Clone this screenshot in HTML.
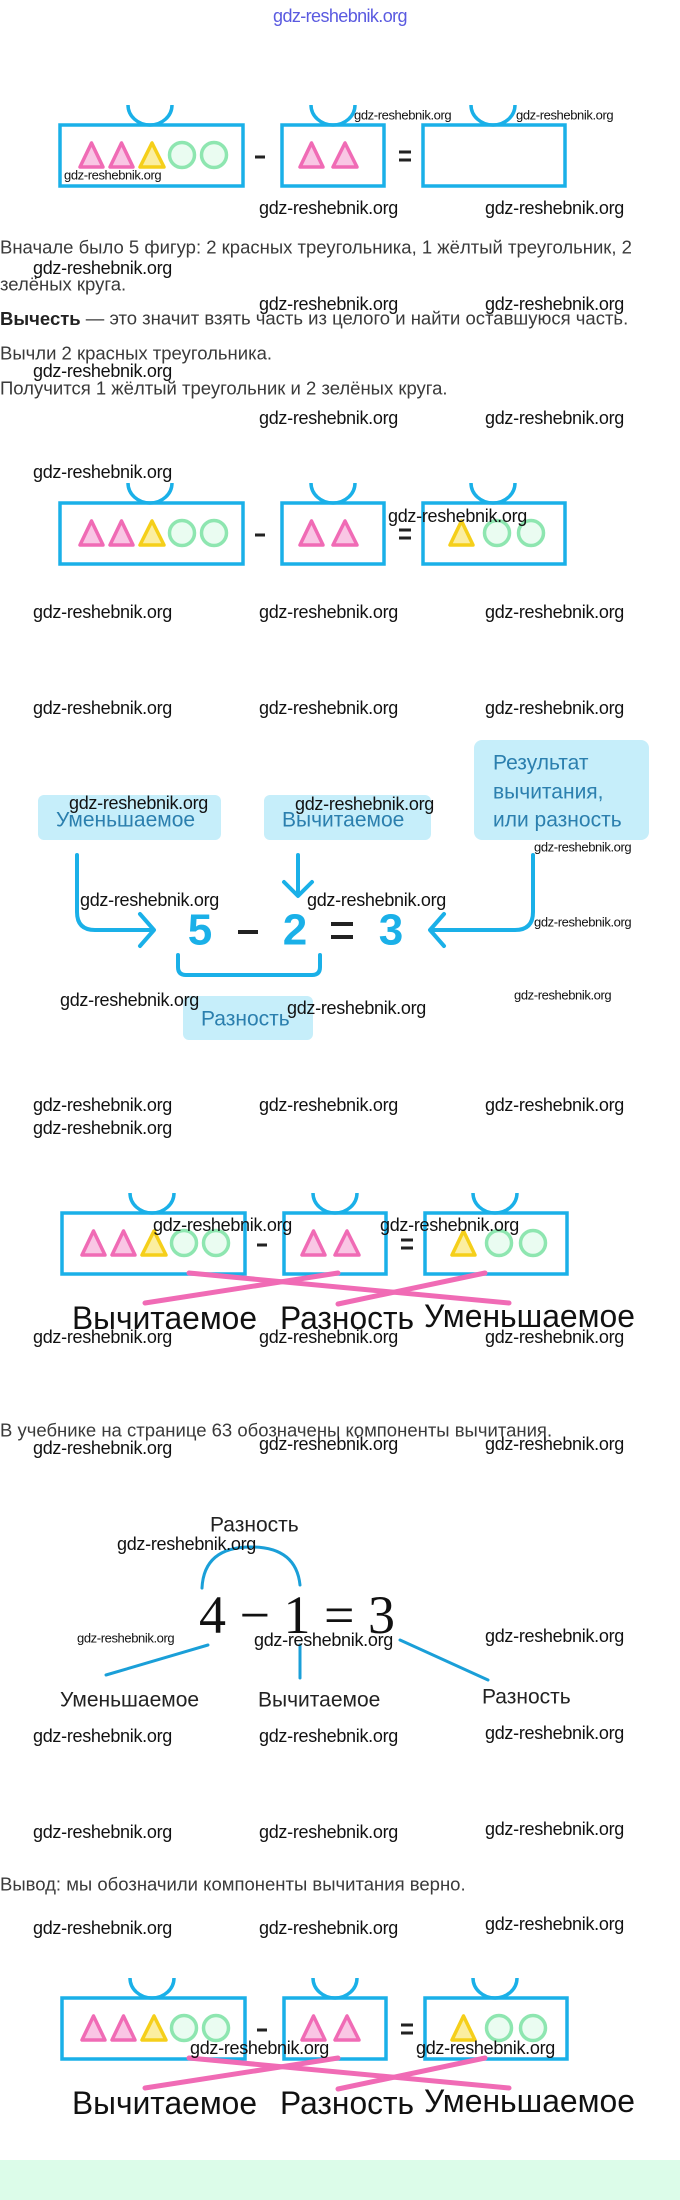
<!DOCTYPE html>
<html><head><meta charset="utf-8"><style>
html,body{margin:0;padding:0;background:#fff;}
svg{display:block;}
.w{font-family:"Liberation Sans",sans-serif;font-size:18px;fill:#111;letter-spacing:-0.3px;}
.ws{font-family:"Liberation Sans",sans-serif;font-size:13px;fill:#111;letter-spacing:-0.4px;}
.t{font-family:"Liberation Sans",sans-serif;font-size:18.5px;fill:#3a3a3a;}
.lb{font-family:"Liberation Sans",sans-serif;font-size:21px;fill:#2b7fae;}
.big{font-family:"Liberation Sans",sans-serif;font-size:32px;fill:#111;}
.mid{font-family:"Liberation Sans",sans-serif;font-size:21px;fill:#222;}
</style></head><body>
<svg width="680" height="2200" viewBox="0 0 680 2200" xmlns="http://www.w3.org/2000/svg">
<defs>
<g id="base" fill="none" stroke="#1ab0e8" stroke-width="3.5">
 <rect x="60" y="20" width="183" height="61"/>
 <rect x="282" y="20" width="102" height="61"/>
 <rect x="423" y="20" width="142" height="61"/>
 <path d="M128,0 A22,20 0 0 0 172,0"/>
 <path d="M311,0 A22,20 0 0 0 355,0"/>
 <path d="M471,0 A22,20 0 0 0 515,0"/>
 <g stroke="#222" stroke-width="3"><line x1="255" y1="52" x2="265" y2="52"/><line x1="399" y1="47" x2="411" y2="47"/><line x1="399" y1="55" x2="411" y2="55"/></g>
 <g stroke="#f06bb5" fill="#f9c6e4" stroke-linejoin="round"><polygon points="91.5,38 80,62 103,62"/><polygon points="121.5,38 110,62 133,62"/><polygon points="311.5,38 300,62 323,62"/><polygon points="345,38 333,62 357,62"/></g>
 <polygon points="152,38 140,62 164,62" stroke="#f5cf1a" fill="#fbeea0" stroke-linejoin="round"/>
 <g stroke="#8ee6b0" fill="#eafcf1"><circle cx="182" cy="50" r="12.5"/><circle cx="214" cy="50" r="12.5"/></g>
</g>
<g id="res" fill="none" stroke-width="3.5">
 <polygon points="461.5,38 450,62 473,62" stroke="#f5cf1a" fill="#fbeea0" stroke-linejoin="round"/>
 <g stroke="#8ee6b0" fill="#eafcf1"><circle cx="497" cy="50" r="12.5"/><circle cx="531" cy="50" r="12.5"/></g>
</g>
<g id="cross" stroke="#f06bb5" stroke-width="5" stroke-linecap="round">
 <line x1="189" y1="80" x2="509" y2="110"/><line x1="338" y1="80" x2="145" y2="110"/><line x1="485" y1="80" x2="338" y2="111"/>
</g>
</defs>

<text x="340" y="16" text-anchor="middle" dominant-baseline="central" style="font-family:'Liberation Sans',sans-serif;font-size:18px;fill:#5a5ae0;letter-spacing:-0.6px">gdz-reshebnik.org</text>

<!-- section 1 -->
<use href="#base" transform="translate(0,105)"/>
<text class="ws" x="354" y="115" dominant-baseline="central">gdz-reshebnik.org</text>
<text class="ws" x="516" y="115" dominant-baseline="central">gdz-reshebnik.org</text>
<text class="ws" x="64" y="175" dominant-baseline="central">gdz-reshebnik.org</text>
<text class="w" x="259" y="208" dominant-baseline="central">gdz-reshebnik.org</text>
<text class="w" x="485" y="208" dominant-baseline="central">gdz-reshebnik.org</text>
<text class="t" x="0" y="247" dominant-baseline="central">Вначале было 5 фигур: 2 красных треугольника, 1 жёлтый треугольник, 2</text>
<text class="w" x="33" y="268" dominant-baseline="central">gdz-reshebnik.org</text>
<text class="t" x="0" y="284" dominant-baseline="central">зелёных круга.</text>
<text class="w" x="259" y="304" dominant-baseline="central">gdz-reshebnik.org</text>
<text class="w" x="485" y="304" dominant-baseline="central">gdz-reshebnik.org</text>
<text class="t" x="0" y="318" dominant-baseline="central"><tspan font-weight="bold" fill="#222">Вычесть</tspan> — это значит взять часть из целого и найти оставшуюся часть.</text>
<text class="t" x="0" y="353" dominant-baseline="central">Вычли 2 красных треугольника.</text>
<text class="w" x="33" y="371" dominant-baseline="central">gdz-reshebnik.org</text>
<text class="t" x="0" y="388" dominant-baseline="central">Получится 1 жёлтый треугольник и 2 зелёных круга.</text>
<text class="w" x="259" y="418" dominant-baseline="central">gdz-reshebnik.org</text>
<text class="w" x="485" y="418" dominant-baseline="central">gdz-reshebnik.org</text>

<!-- section 2 -->
<text class="w" x="33" y="472" dominant-baseline="central">gdz-reshebnik.org</text>
<use href="#base" transform="translate(0,483)"/>
<use href="#res" transform="translate(0,483)"/>
<text class="w" x="388" y="516" dominant-baseline="central">gdz-reshebnik.org</text>
<text class="w" x="33" y="612" dominant-baseline="central">gdz-reshebnik.org</text>
<text class="w" x="259" y="612" dominant-baseline="central">gdz-reshebnik.org</text>
<text class="w" x="485" y="612" dominant-baseline="central">gdz-reshebnik.org</text>
<text class="w" x="33" y="708" dominant-baseline="central">gdz-reshebnik.org</text>
<text class="w" x="259" y="708" dominant-baseline="central">gdz-reshebnik.org</text>
<text class="w" x="485" y="708" dominant-baseline="central">gdz-reshebnik.org</text>

<!-- section 3 -->
<rect x="38" y="795" width="183" height="45" rx="6" fill="#c6eefa"/>
<rect x="264" y="795" width="167" height="45" rx="6" fill="#c6eefa"/>
<rect x="474" y="740" width="175" height="100" rx="8" fill="#c6eefa"/>
<text class="lb" x="56" y="820" dominant-baseline="central">Уменьшаемое</text>
<text class="lb" x="282" y="820" dominant-baseline="central">Вычитаемое</text>
<text class="lb" x="493" y="763" dominant-baseline="central">Результат</text>
<text class="lb" x="493" y="792" dominant-baseline="central">вычитания,</text>
<text class="lb" x="493" y="820" dominant-baseline="central">или разность</text>
<g fill="none" stroke="#1ab0e8" stroke-width="4" stroke-linecap="round" stroke-linejoin="round">
 <path d="M77,855 V912 Q77,930 95,930 H152"/>
 <path d="M140,914 L154,930 L140,946"/>
 <path d="M298,855 V895"/>
 <path d="M284,882 L298,896 L312,882"/>
 <path d="M533,855 V912 Q533,930 515,930 H432"/>
 <path d="M444,914 L430,930 L444,946"/>
 <path d="M178,955 V967 Q178,975 186,975 H312 Q320,975 320,967 V955"/>
</g>
<g style="font-family:'Liberation Sans',sans-serif;font-size:44px;font-weight:bold" text-anchor="middle" dominant-baseline="central">
 <text x="200" y="930" fill="#1ab0e8">5</text>
 <text x="295" y="930" fill="#1ab0e8">2</text>
 <text x="391" y="930" fill="#1ab0e8">3</text>
</g>
<line x1="238" y1="932" x2="258" y2="932" stroke="#222" stroke-width="4"/>
<line x1="331" y1="924" x2="353" y2="924" stroke="#222" stroke-width="4"/>
<line x1="331" y1="937" x2="353" y2="937" stroke="#222" stroke-width="4"/>
<rect x="183" y="996" width="130" height="44" rx="6" fill="#c6eefa"/>
<text class="lb" x="201" y="1019" dominant-baseline="central">Разность</text>
<text class="w" x="69" y="803" dominant-baseline="central">gdz-reshebnik.org</text>
<text class="w" x="295" y="804" dominant-baseline="central">gdz-reshebnik.org</text>
<text class="ws" x="534" y="847" dominant-baseline="central">gdz-reshebnik.org</text>
<text class="w" x="80" y="900" dominant-baseline="central">gdz-reshebnik.org</text>
<text class="w" x="307" y="900" dominant-baseline="central">gdz-reshebnik.org</text>
<text class="ws" x="534" y="922" dominant-baseline="central">gdz-reshebnik.org</text>
<text class="w" x="60" y="1000" dominant-baseline="central">gdz-reshebnik.org</text>
<text class="w" x="287" y="1008" dominant-baseline="central">gdz-reshebnik.org</text>
<text class="ws" x="514" y="995" dominant-baseline="central">gdz-reshebnik.org</text>
<text class="w" x="33" y="1105" dominant-baseline="central">gdz-reshebnik.org</text>
<text class="w" x="259" y="1105" dominant-baseline="central">gdz-reshebnik.org</text>
<text class="w" x="485" y="1105" dominant-baseline="central">gdz-reshebnik.org</text>

<!-- section 4 -->
<text class="w" x="33" y="1128" dominant-baseline="central">gdz-reshebnik.org</text>
<use href="#base" transform="translate(2,1193)"/>
<use href="#res" transform="translate(2,1193)"/>
<use href="#cross" transform="translate(0,1193)"/>
<text class="w" x="153" y="1225" dominant-baseline="central">gdz-reshebnik.org</text>
<text class="w" x="380" y="1225" dominant-baseline="central">gdz-reshebnik.org</text>
<text class="big" x="72" y="1318" dominant-baseline="central" textLength="185" lengthAdjust="spacingAndGlyphs">Вычитаемое</text>
<text class="big" x="280" y="1318" dominant-baseline="central" textLength="134" lengthAdjust="spacingAndGlyphs">Разность</text>
<text class="big" x="424" y="1316" dominant-baseline="central" textLength="211" lengthAdjust="spacingAndGlyphs">Уменьшаемое</text>
<text class="w" x="33" y="1337" dominant-baseline="central">gdz-reshebnik.org</text>
<text class="w" x="259" y="1337" dominant-baseline="central">gdz-reshebnik.org</text>
<text class="w" x="485" y="1337" dominant-baseline="central">gdz-reshebnik.org</text>
<text class="t" x="0" y="1430" dominant-baseline="central">В учебнике на странице 63 обозначены компоненты вычитания.</text>
<text class="w" x="33" y="1448" dominant-baseline="central">gdz-reshebnik.org</text>
<text class="w" x="259" y="1444" dominant-baseline="central">gdz-reshebnik.org</text>
<text class="w" x="485" y="1444" dominant-baseline="central">gdz-reshebnik.org</text>

<!-- section 5 -->
<text class="mid" x="210" y="1525" dominant-baseline="central">Разность</text>
<g fill="none" stroke="#1a9fd8" stroke-width="3" stroke-linecap="round">
 <path d="M202,1588 Q204,1547 251,1547 Q296,1547 300,1585"/>
 <line x1="208" y1="1645" x2="106" y2="1675"/>
 <line x1="300" y1="1645" x2="300" y2="1678"/>
 <line x1="400" y1="1640" x2="488" y2="1680"/>
</g>
<text x="297" y="1615" text-anchor="middle" dominant-baseline="central" style="font-family:'Liberation Serif',serif;font-size:54px;fill:#111">4 − 1 = 3</text>
<text class="w" x="117" y="1544" dominant-baseline="central">gdz-reshebnik.org</text>
<text class="ws" x="77" y="1638" dominant-baseline="central">gdz-reshebnik.org</text>
<text class="w" x="254" y="1640" dominant-baseline="central">gdz-reshebnik.org</text>
<text class="w" x="485" y="1636" dominant-baseline="central">gdz-reshebnik.org</text>
<text class="mid" x="60" y="1700" dominant-baseline="central">Уменьшаемое</text>
<text class="mid" x="258" y="1700" dominant-baseline="central">Вычитаемое</text>
<text class="mid" x="482" y="1697" dominant-baseline="central">Разность</text>
<text class="w" x="33" y="1736" dominant-baseline="central">gdz-reshebnik.org</text>
<text class="w" x="259" y="1736" dominant-baseline="central">gdz-reshebnik.org</text>
<text class="w" x="485" y="1733" dominant-baseline="central">gdz-reshebnik.org</text>
<text class="w" x="33" y="1832" dominant-baseline="central">gdz-reshebnik.org</text>
<text class="w" x="259" y="1832" dominant-baseline="central">gdz-reshebnik.org</text>
<text class="w" x="485" y="1829" dominant-baseline="central">gdz-reshebnik.org</text>

<!-- section 6 -->
<text class="t" x="0" y="1884" dominant-baseline="central">Вывод: мы обозначили компоненты вычитания верно.</text>
<text class="w" x="33" y="1928" dominant-baseline="central">gdz-reshebnik.org</text>
<text class="w" x="259" y="1928" dominant-baseline="central">gdz-reshebnik.org</text>
<text class="w" x="485" y="1924" dominant-baseline="central">gdz-reshebnik.org</text>
<use href="#base" transform="translate(2,1978)"/>
<use href="#res" transform="translate(2,1978)"/>
<use href="#cross" transform="translate(0,1978)"/>
<text class="w" x="190" y="2048" dominant-baseline="central">gdz-reshebnik.org</text>
<text class="w" x="416" y="2048" dominant-baseline="central">gdz-reshebnik.org</text>
<text class="big" x="72" y="2103" dominant-baseline="central" textLength="185" lengthAdjust="spacingAndGlyphs">Вычитаемое</text>
<text class="big" x="280" y="2103" dominant-baseline="central" textLength="134" lengthAdjust="spacingAndGlyphs">Разность</text>
<text class="big" x="424" y="2101" dominant-baseline="central" textLength="211" lengthAdjust="spacingAndGlyphs">Уменьшаемое</text>
<rect x="0" y="2160" width="680" height="40" fill="#dcfce9"/>
</svg>
</body></html>
